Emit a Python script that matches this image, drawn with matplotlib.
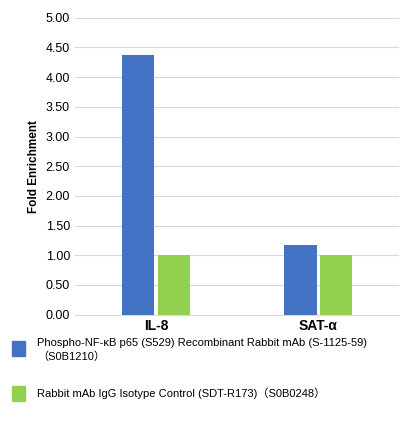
import matplotlib.pyplot as plt
import numpy as np

plt.rcParams['font.family'] = ['Liberation Sans', 'Noto Sans CJK SC', 'DejaVu Sans']

categories = ["IL-8", "SAT-α"]
phospho = [4.38, 1.18]
isotype = [1.0, 1.0]
yticks = [0, 0.5, 1, 1.5, 2, 2.5, 3, 3.5, 4, 4.5, 5]
legend_labels = ["Phospho-NF-κB p65 (S529) Recombinant Rabbit mAb (S-1125-59)\n（S0B1210）",
                 "Rabbit mAb IgG Isotype Control (SDT-R173)（S0B0248）"]
blue = "#4472C4"
green = "#92D050"

fig = plt.figure(figsize=(4.16, 4.24), dpi=100)
ax = fig.add_axes([0.18, 0.258, 0.78, 0.70])

x = np.arange(len(categories))
w = 0.2
ax.bar(x - w / 2 - 0.01, phospho, w, color=blue, zorder=3)
ax.bar(x + w / 2 + 0.01, isotype, w, color=green, zorder=3)

ax.set_xlim(-0.5, 1.5)
ax.set_ylim(0, 5)
ax.set_yticks(yticks)
ax.set_yticklabels([f"{v:.2f}" for v in yticks], fontsize=9)
ax.set_xticks(x)
ax.set_xticklabels(categories, fontsize=10, fontweight="bold")
ax.tick_params(length=0)
ax.grid(axis="y", color="#d9d9d9", linewidth=0.8, zorder=0)
for s in ["top", "right", "left"]:
    ax.spines[s].set_visible(False)
ax.spines["bottom"].set_color("#d9d9d9")
ax.set_ylabel("Fold Enrichment", fontsize=8.5, fontweight="bold")

# legend below the plot
fig.patches.append(plt.Rectangle((0.03, 0.16), 0.03, 0.035, color=blue, transform=fig.transFigure))
fig.text(0.09, 0.175, legend_labels[0], fontsize=8, va="center", linespacing=1.4)
fig.patches.append(plt.Rectangle((0.03, 0.055), 0.03, 0.035, color=green, transform=fig.transFigure))
fig.text(0.09, 0.072, legend_labels[1], fontsize=8, va="center")

fig.savefig("out.png", dpi=100)
